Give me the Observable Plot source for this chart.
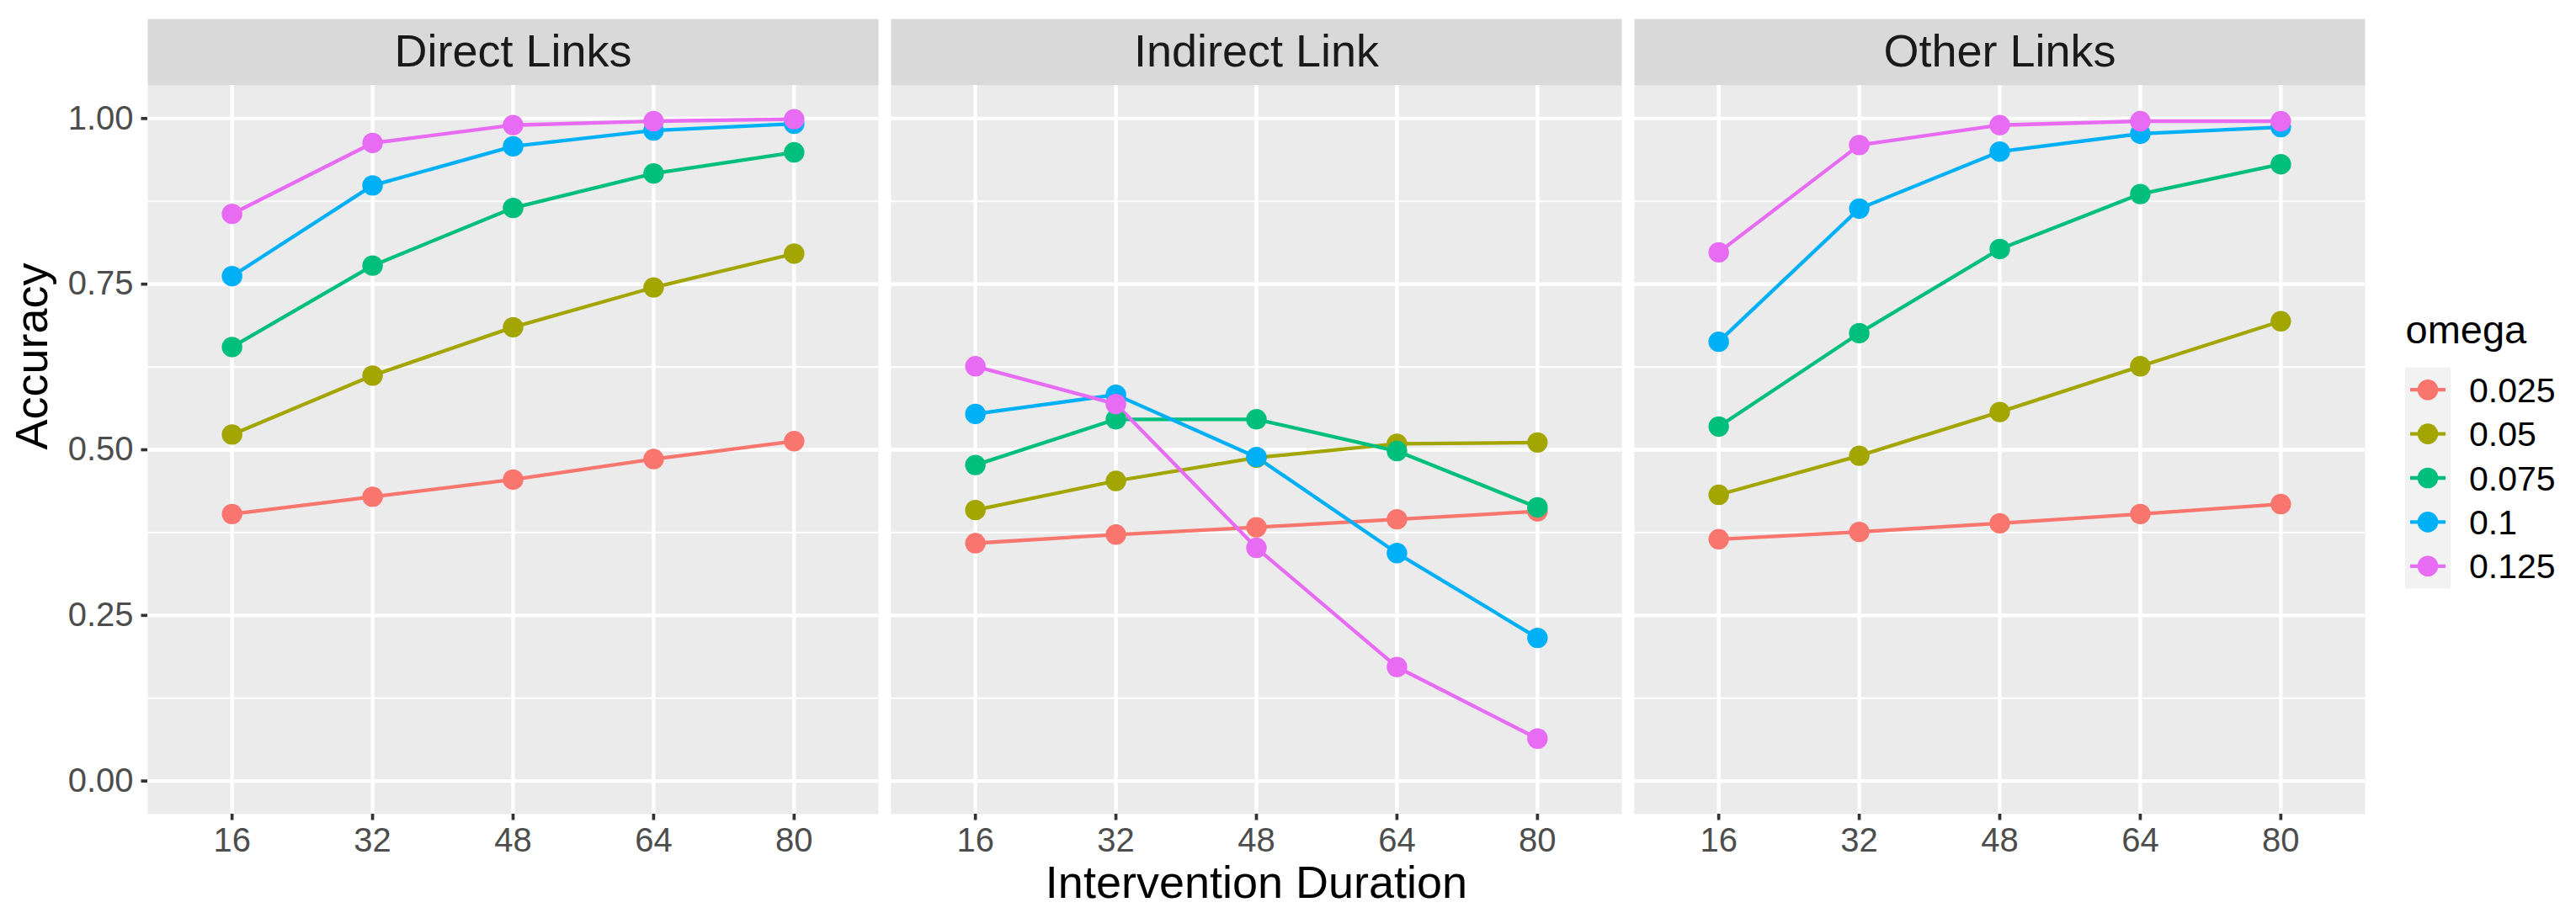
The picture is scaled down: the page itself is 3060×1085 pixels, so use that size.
<!DOCTYPE html>
<html>
<head>
<meta charset="utf-8">
<script src="https://cdn.jsdelivr.net/npm/d3@7"></script>
<script src="https://cdn.jsdelivr.net/npm/@observablehq/plot@0.6"></script>
<style>
  html, body { margin: 0; padding: 0; background: white; }
  #wrap { position: relative; width: 3060px; height: 1085px; font-family: "Liberation Sans", Arial, sans-serif; }
  #legend { position: absolute; left: 2840px; top: 340px; overflow: visible; }
</style>
</head>
<body>
<div id="wrap"></div>
<script>
// ---- data ----
const durations = [16, 32, 48, 64, 80];
const omegas = ["0.025", "0.05", "0.075", "0.1", "0.125"];
const omegaColors = ["#F8766D", "#A3A500", "#00BF7D", "#00B0F6", "#E76BF3"];
const panels = ["Direct Links", "Indirect Link", "Other Links"];

// accuracy by omega (rows) x duration (cols)
const directLinks = [
  [0.403, 0.429, 0.455, 0.486, 0.513],
  [0.523, 0.612, 0.685, 0.745, 0.796],
  [0.655, 0.778, 0.865, 0.917, 0.949],
  [0.762, 0.899, 0.958, 0.982, 0.992],
  [0.856, 0.963, 0.990, 0.996, 0.999]
];
const indirectLink = [
  [0.359, 0.372, 0.383, 0.395, 0.407],
  [0.409, 0.453, 0.488, 0.509, 0.511],
  [0.477, 0.546, 0.546, 0.498, 0.413],
  [0.554, 0.583, 0.489, 0.344, 0.216],
  [0.626, 0.569, 0.352, 0.172, 0.064]
];
const otherLinks = [
  [0.365, 0.376, 0.389, 0.403, 0.418],
  [0.432, 0.491, 0.557, 0.626, 0.694],
  [0.535, 0.676, 0.803, 0.886, 0.931],
  [0.663, 0.864, 0.950, 0.977, 0.987],
  [0.798, 0.960, 0.990, 0.996, 0.996]
];
const yMajor = [0, 0.25, 0.5, 0.75, 1];
const yMinor = [0.125, 0.375, 0.625, 0.875];
const yTitle = "Accuracy";
const xTitle = "Intervention Duration";
const legendTitle = "omega";

// ---- build table ----
const series = [directLinks, indirectLink, otherLinks];
const rows = [];
panels.forEach((p, pi) => {
  omegas.forEach((o, oi) => {
    durations.forEach((d, di) => {
      rows.push({panel: p, omega: o, duration: d, accuracy: series[pi][oi][di]});
    });
  });
});

// ---- layout ----
const W = 3060, H = 1085;
const mL = 175, mR = 251, mT = 101, mB = 118;
const stripH = 79;
const panelH = H - mT - mB;
const panelGap = 15;
const panelW = (W - mL - mR - 2 * panelGap) / 3;

const chart = Plot.plot({
  width: W,
  height: H,
  marginLeft: mL,
  marginRight: mR,
  marginTop: mT,
  marginBottom: mB,
  style: {fontFamily: "'Liberation Sans', Arial, sans-serif", background: "white", overflow: "visible"},
  fx: {domain: panels, paddingInner: panelGap / (panelW + panelGap), paddingOuter: 0, round: false, axis: null, label: null},
  x: {type: "point", domain: durations, padding: 0.6, round: false, label: null},
  y: {domain: [-0.05, 1.05], label: null},
  color: {type: "ordinal", domain: omegas, range: omegaColors},
  marks: [
    Plot.frame({fill: "#EBEBEB", stroke: "none"}),
    Plot.frame({fill: "#D9D9D9", stroke: "none", insetTop: -stripH, insetBottom: panelH}),
    Plot.gridY(yMinor, {stroke: "white", strokeOpacity: 1, strokeWidth: 2.2}),
    Plot.gridY(yMajor, {stroke: "white", strokeOpacity: 1, strokeWidth: 4.3}),
    Plot.gridX(durations, {stroke: "white", strokeOpacity: 1, strokeWidth: 4.3}),
    Plot.axisX({tickSize: 7.5, tickPadding: 8.5, fontSize: 40, fill: "#4D4D4D", stroke: "#333333", strokeWidth: 3.7, label: null}),
    Plot.axisY(yMajor, {tickFormat: d3.format(".2f"), tickSize: 7.5, tickPadding: 9.5, fontSize: 40, fill: "#4D4D4D", stroke: "#333333", strokeWidth: 3.7, label: null}),
    Plot.text(panels, {fx: d => d, text: d => d, frameAnchor: "top", dy: -stripH / 2, lineAnchor: "middle", fontSize: 54, fill: "#1A1A1A"}),
    Plot.text([yTitle], {fx: () => panels[0], text: d => d, frameAnchor: "left", dx: 38 - mL, rotate: -90, lineAnchor: "middle", fontSize: 54, fill: "black"}),
    Plot.text([xTitle], {fx: () => panels[1], text: d => d, frameAnchor: "bottom", dy: 82, lineAnchor: "middle", fontSize: 54, fill: "black"}),
    Plot.line(rows, {fx: "panel", x: "duration", y: "accuracy", z: "omega", stroke: "omega", strokeWidth: 4.3}),
    Plot.dot(rows, {fx: "panel", x: "duration", y: "accuracy", fill: "omega", r: 12.2})
  ]
});

const wrap = document.getElementById("wrap");
wrap.appendChild(chart);

// ---- legend ----
const color = chart.scale("color");
const off = 30;
const lg = d3.select(wrap).append("svg")
  .attr("id", "legend")
  .attr("width", 220)
  .attr("height", 400)
  .style("font-family", "'Liberation Sans', Arial, sans-serif");
lg.append("text")
  .attr("x", 17.5).attr("y", 38 + off)
  .attr("font-size", 47).attr("fill", "black")
  .text(legendTitle);
const keyTop = 67 + off, keyH = 52.4, keyW = 54;
lg.append("rect")
  .attr("x", 17).attr("y", keyTop)
  .attr("width", keyW).attr("height", keyH * omegas.length)
  .attr("fill", "#F2F2F2");
omegas.forEach((o, i) => {
  const cy = keyTop + keyH * (i + 0.5);
  const c = color.apply(o);
  lg.append("line")
    .attr("x1", 23).attr("x2", 65).attr("y1", cy).attr("y2", cy)
    .attr("stroke", c).attr("stroke-width", 4.3);
  lg.append("circle")
    .attr("cx", 44).attr("cy", cy).attr("r", 12.3).attr("fill", c);
  lg.append("text")
    .attr("x", 93).attr("y", cy).attr("dy", "0.358em")
    .attr("font-size", 41).attr("fill", "black")
    .text(o);
});
</script>
</body>
</html>
